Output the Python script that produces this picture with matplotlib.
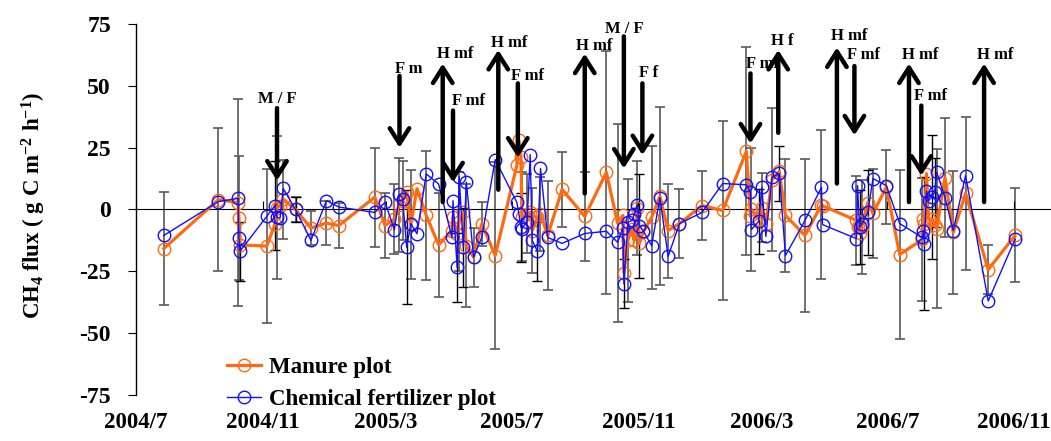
import numpy as np
import matplotlib
matplotlib.use('Agg')
import matplotlib.pyplot as plt
import matplotlib.dates as mdates

plt.rcParams['font.family'] = ['Liberation Serif', 'DejaVu Serif']
plt.rcParams['font.weight'] = 'bold'
plt.rcParams['axes.unicode_minus'] = False
plt.rcParams['mathtext.fontset'] = 'custom'
plt.rcParams['mathtext.rm'] = 'Liberation Serif:bold'
plt.rcParams['mathtext.it'] = 'Liberation Serif:bold'
plt.rcParams['mathtext.bf'] = 'Liberation Serif:bold'
plt.rcParams['mathtext.default'] = 'rm'

# sampling day, counted from 2004/7/1
day = [27, 80, 99, 100, 101, 127, 135, 137, 140, 143,
       155, 170, 185, 197, 232, 242, 251, 256, 259, 263,
       267, 273, 282, 294, 307, 308, 312, 314, 318, 321,
       328, 336, 349, 370, 372, 374, 375, 380, 383, 385,
       390, 393, 400, 414, 436, 457, 468, 473, 474, 478,
       482, 484, 487, 489, 493, 501, 509, 517, 528, 550,
       570, 593, 597, 598, 605, 608, 612, 618, 625, 631,
       650, 666, 667, 700, 701, 703, 705, 711, 716, 729,
       742, 764, 765, 766, 768, 770, 773, 776, 778, 786,
       794, 806, 828, 854]

manure = [-15.8, 4.0, 2.8, -3.5, -14.3, -14.8, -6.0, 0.8, 1.5, 4.2,
          0.0, -7.5, -5.5, -6.5, 5.0, -6.5, -3.8, 2.0, 3.6, 7.0,
          -6.1, 8.4, -2.4, -14.3, -8.5, -3.0, -10.0, -5.0, -1.2, -14.6,
          -19.3, -5.8, -18.6, 17.8, 27.9, 21.4, -3.0, -1.7, -1.2, -8.5,
          -3.2, -1.7, -10.5, 8.1, -2.8, 15.0, -5.6, -2.4, -25.5, -12.5,
          -7.7, -12.5, 0.8, -13.7, -9.0, -3.2, 5.3, -8.5, -5.7, 1.6,
          -0.4, 23.5, -2.8, 0.0, -4.0, 0.8, -5.7, 12.1, 15.4, -2.4,
          -10.5, 2.0, 1.5, -4.4, -6.9, -9.7, -7.0, 2.8, -1.6, 9.0,
          -18.2, -12.1, -3.8, -6.0, 14.5, -4.0, -3.8, -6.1, -7.7, 12.9,
          -9.3, 6.5, -24.3, -10.5]

chem = [-10.5, 3.2, 4.5, -11.4, -16.9, -2.8, 1.6, -3.2, -3.5, 8.5,
        0.0, -12.5, 3.6, 1.0, -1.2, 2.9, -8.2, 6.1, 4.4, -15.3,
        -5.7, -9.8, 14.4, 10.3, -11.3, 3.6, -23.4, 13.3, -15.3, 11.0,
        -19.3, -11.2, 20.2, 2.9, -1.7, -7.2, -7.7, -5.0, 22.2, -12.5,
        -16.9, 16.6, -11.3, -13.7, -9.7, -8.8, -13.3, -7.3, -30.0, -5.2,
        -4.4, -2.0, 2.0, -6.5, -8.8, -14.6, 4.8, -19.0, -5.7, -1.2,
        10.5, 10.0, 6.9, -8.1, -4.8, 8.9, -10.9, 13.0, 14.6, -18.6,
        -4.4, 9.0, -6.1, -11.8, 9.7, -7.2, -6.0, -1.2, 12.5, 9.7,
        -5.7, -11.3, -8.5, -13.8, 7.3, 3.6, 5.0, 7.0, 15.0, 4.8,
        -8.5, 13.7, -37.0, -12.1]

manure_err = [23, 29, 42, 25, 0, 31, 0, 29, 0, 16,
              5, 7, 9, 9, 20, 13, 14, 19, 16, 0,
              22, 0, 26, 21, 0, 0, 0, 20, 0, 25,
              12, 9, 38, 0, 0, 0, 18, 16, 0, 17,
              0, 15, 22, 15, 18, 49, 40, 0, 0, 25,
              0, 0, 19, 0, 0, 29, 36, 19, 14, 14,
              36, 42, 0, 25, 0, 14, 0, 29, 0, 23,
              31, 30, 0, 18, 0, 0, 19, 0, 18, 15,
              34, 25, 0, 0, 0, 0, 0, 0, 32, 24,
              25, 31, 10, 19]

chem_err = [0, 0, 0, 0, 12, 0, 18, 0, 0, 0,
            5, 0, 0, 0, 0, 0, 0, 0, 0, 23,
            0, 0, 0, 0, 0, 0, 14, 0, 16, 0,
            0, 0, 0, 0, 0, 14, 0, 0, 0, 0,
            12, 0, 0, 0, 0, 0, 0, 0, 10, 0,
            0, 0, 0, 21, 0, 0, 0, 0, 0, 0,
            0, 0, 0, 0, 13, 0, 0, 0, 11, 0,
            0, 0, 0, 0, 0, 15, 0, 17, 0, 0,
            0, 0, 0, 27, 0, 0, 25, 14, 0, 0,
            0, 0, 0, 0]

# management events (H = harvest, F = fertilization, M / F = manure / fertilizer)
ev_text = ['M / F', 'F m', 'H mf', 'F mf', 'H mf', 'F mf', 'H mf', 'M / F',
           'F f', 'F mf', 'H f', 'H mf', 'F mf', 'H mf', 'F mf', 'H mf']
ev_day = [137, 256, 298, 308, 352, 371, 436, 474,
          492, 597, 624, 681, 698, 751, 763, 824]
ev_tail = [41, 54, 3, 40, 8, 51, 6.5, 70,
           51, 55, 31, 10.5, 58, 3, 42, 3]
ev_head = [11.7, 25, 59, 11, 64.5, 21, 63, 16.6,
           22, 26.7, 64.5, 65.5, 30, 59, 13.7, 59]
ev_tx = [137, 265, 310, 323, 363, 380, 445, 474,
         498, 609, 628, 693, 707, 762, 772, 835]
ev_ty = [44.5, 57, 63, 44, 67.5, 54, 66.3, 73,
         55, 59, 68.3, 70, 62.3, 62.3, 45.7, 62.3]

tick_dates = ['2004-07-01', '2004-11-01', '2005-03-01', '2005-07-01',
              '2005-11-01', '2006-03-01', '2006-07-01', '2006-11-01']
tick_labels = ['2004/7', '2004/11', '2005/3', '2005/7',
               '2005/11', '2006/3', '2006/7', '2006/11']

start = mdates.date2num(np.datetime64('2004-07-01'))
x = start + np.array(day, dtype=float)
manure = np.array(manure)
chem = np.array(chem)
manure_err = np.array(manure_err, dtype=float)
chem_err = np.array(chem_err, dtype=float)

fig = plt.figure(figsize=(10.51, 4.41), dpi=100)
ax = fig.add_axes([0.1294, 0.1043, 0.8706, 0.8413])

m = manure_err > 0
ax.errorbar(x[m], manure[m], yerr=manure_err[m], fmt='none', ecolor='#5a5a5a',
            elinewidth=1.2, capsize=3.5, capthick=1.2, zorder=1)
c = chem_err > 0
ax.errorbar(x[c], chem[c], yerr=chem_err[c], fmt='none', ecolor='black',
            elinewidth=1.0, capsize=3.5, capthick=1.0, zorder=1)

l1, = ax.plot(x, manure, color='#ff6a10', lw=2.3, marker='o', ms=9,
              mfc='none', mec='#ff6a10', mew=1.0, zorder=3, label='Manure plot')
l2, = ax.plot(x, chem, color='#1010ff', lw=1.0, marker='o', ms=9,
              mfc='none', mec='#1010ff', mew=1.0, zorder=4,
              label='Chemical fertilizer plot')

for t, d, y0, y1, tx, ty in zip(ev_text, ev_day, ev_tail, ev_head, ev_tx, ev_ty):
    ax.annotate('', xy=(start + d, y1), xytext=(start + d, y0),
                arrowprops=dict(arrowstyle='->,head_length=0.55,head_width=0.35',
                                lw=3.2, color='black', mutation_scale=20,
                                shrinkA=0, shrinkB=0), zorder=6)
    ax.text(start + tx, ty, t, ha='center', va='center', fontsize=12,
            fontweight='bold', zorder=5)

ax.set_xlim(start, start + 889)
ax.set_ylim(-75, 75)
ax.set_yticks(np.arange(-75, 76, 25))
ax.spines['top'].set_visible(False)
ax.spines['right'].set_visible(False)
ax.spines['bottom'].set_position(('data', 0))
ax.spines['left'].set_linewidth(1.0)

tick_pos = mdates.date2num(np.array(tick_dates, dtype='datetime64[D]'))
ax.set_xticks(tick_pos)
ax.tick_params(axis='x', direction='in', length=6, labelbottom=False)
ax.tick_params(axis='y', direction='out', length=6, pad=12, labelsize=17)

sec = ax.secondary_xaxis('bottom')
sec.set_xticks(tick_pos, labels=tick_labels)
sec.tick_params(length=0, pad=12, labelsize=16.5)
sec.spines['bottom'].set_visible(False)

ax.set_ylabel(r'CH$_4$ flux ( g C m$^{-2}$ h$^{-1}$)', fontsize=16.5, fontweight='bold')
ax.yaxis.set_label_coords(-0.096, 0.51)

fig.legend([l1, l2], ['Manure plot', 'Chemical fertilizer plot'],
           loc='lower left', bbox_to_anchor=(0.207, 0.049), frameon=False,
           fontsize=16.5, handlelength=1.5, labelspacing=0.48,
           handletextpad=0.35, borderaxespad=0)

fig.savefig('out.png', dpi=100)
